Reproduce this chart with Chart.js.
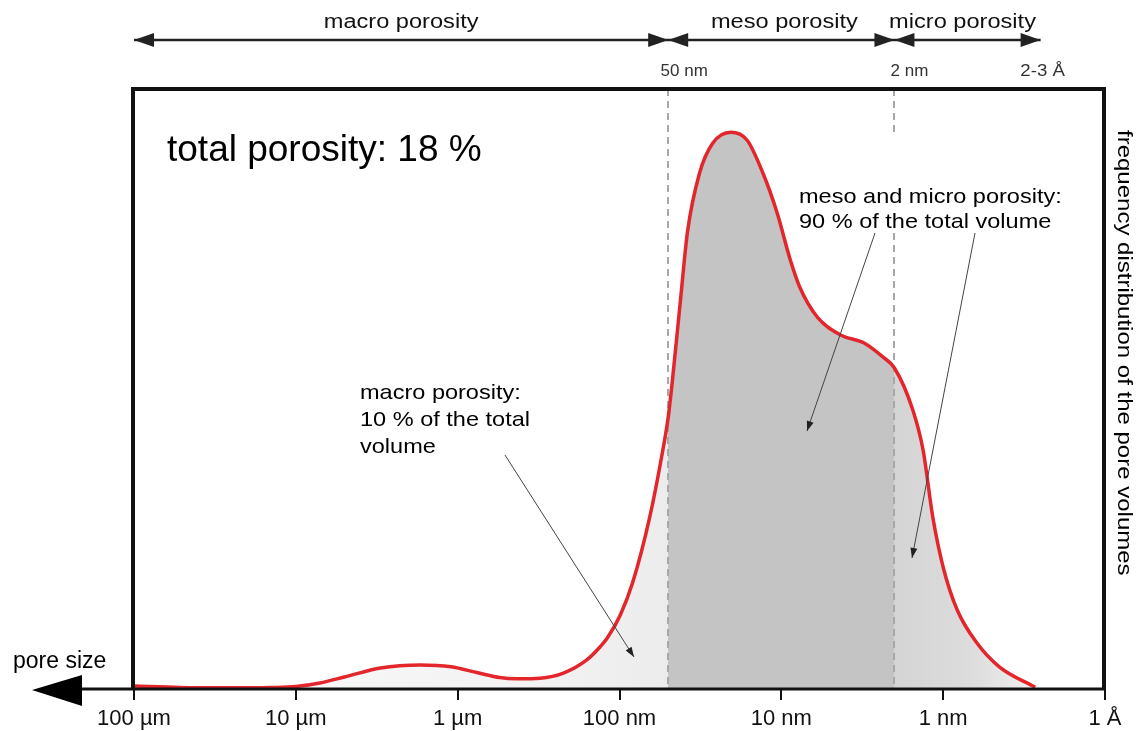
<!DOCTYPE html>
<html>
<head>
<meta charset="utf-8">
<script src="https://cdn.jsdelivr.net/npm/chart.js@4.4.1/dist/chart.umd.min.js"></script>
<style>
  html, body { margin: 0; padding: 0; background: #fff; }
  #wrap { width: 1140px; height: 731px; position: relative; }
</style>
</head>
<body>
<div id="wrap"><canvas id="poreChart"></canvas></div>
<script>
// pore size in nm (100 µm ... 1 Å)
const sizeNm = [100000, 52000, 25000, 14500, 10000, 7100, 5000, 3000, 1700, 1100, 750, 550,
    430, 310, 220, 160, 132, 119, 99, 83, 65, 54,
    50, 47.4, 42, 38, 32, 26.5, 20.5, 16.3, 13, 10.6, 8.8, 7.7, 6.0, 4.3, 3.1, 2.35,
    2.0, 1.54, 1.33, 1.16, 1.0, 0.82, 0.62, 0.45, 0.27];
// relative frequency (0..100 of the plot height)
const freq = [0.5, 0.25, 0.2, 0.25, 0.4, 1.0, 2.0, 3.5, 4.0, 3.7, 2.7, 1.9,
    1.7, 1.8, 2.7, 4.8, 7.0, 8.5, 12.3, 17.7, 28.7, 39.8,
    45.3, 50.7, 64.8, 76.2, 86.0, 91.0, 92.8, 91.5, 86.0, 79.3, 71.5, 67.0, 62.0, 59.0, 57.7, 55.3,
    53.5, 46.5, 39.8, 28.7, 20.3, 13.2, 7.7, 3.7, 0.3];

const tickValues = [100000, 10000, 1000, 100, 10, 1, 0.1];
const tickLabels = ['100 µm', '10 µm', '1 µm', '100 nm', '10 nm', '1 nm', '1 Å'];

// region limits (nm)
const mesoStart = 50;
const microStart = 2;
const microEnd = 0.25;
const regionNames = ['macro porosity', 'meso porosity', 'micro porosity'];
const limitLabels = ['50 nm', '2 nm', '2-3 Å'];

const FONT = '"Liberation Sans", Arial, Helvetica, sans-serif';

function txt(ctx, s, x, y, size, sx, color, align) {
    ctx.save();
    ctx.font = size + 'px ' + FONT;
    ctx.fillStyle = color || '#000';
    ctx.textBaseline = 'alphabetic';
    ctx.textAlign = align || 'left';
    ctx.translate(x, y);
    ctx.scale(sx, 1);
    ctx.fillText(s, 0, 0);
    ctx.restore();
}

function head(ctx, x, y, dir, len, half) {
    // dir: +1 points right, -1 points left
    ctx.beginPath();
    ctx.moveTo(x, y);
    ctx.lineTo(x - dir * len, y - half);
    ctx.lineTo(x - dir * len, y + half);
    ctx.closePath();
    ctx.fill();
}

function pointer(ctx, x0, y0, x1, y1) {
    ctx.save();
    ctx.strokeStyle = '#444';
    ctx.fillStyle = '#222';
    ctx.lineWidth = 1;
    ctx.beginPath();
    ctx.moveTo(x0, y0);
    ctx.lineTo(x1, y1);
    ctx.stroke();
    const a = Math.atan2(y1 - y0, x1 - x0);
    ctx.translate(x1, y1);
    ctx.rotate(a);
    ctx.beginPath();
    ctx.moveTo(0, 0);
    ctx.lineTo(-10, -3.5);
    ctx.lineTo(-10, 3.5);
    ctx.closePath();
    ctx.fill();
    ctx.restore();
}

// one horizontal gradient with hard stops at the region limits
let fillCache = null;
function regionFill(ctx) {
    const chart = ctx.chart;
    const area = chart.chartArea;
    const xs = chart.scales.x;
    if (!area || !xs) return '#dddddd';
    const key = area.left + ':' + area.right;
    if (fillCache && fillCache.key === key) return fillCache.g;
    const w = area.right - area.left;
    const t = v => Math.min(1, Math.max(0, (xs.getPixelForValue(v) - area.left) / w));
    const g = chart.ctx.createLinearGradient(area.left, 0, area.right, 0);
    const tm = t(mesoStart), tu = t(microStart), te = t(microEnd);
    g.addColorStop(0, '#fafafa');
    g.addColorStop(tm * 0.75, '#f3f3f3');
    g.addColorStop(tm - 0.0005, '#ececec');
    g.addColorStop(tm, '#c4c4c4');
    g.addColorStop(tu - 0.0005, '#c4c4c4');
    g.addColorStop(tu, '#d4d4d4');
    g.addColorStop(tu + (te - tu) * 0.55, '#dddddd');
    g.addColorStop(te, '#f3f3f3');
    g.addColorStop(1, '#ffffff');
    fillCache = { key, g };
    return g;
}

const decor = {
    id: 'decor',
    beforeDatasetDraw(chart) {
        const ctx = chart.ctx, a = chart.chartArea, xs = chart.scales.x;
        ctx.save();
        ctx.strokeStyle = '#a8a8a8';
        ctx.lineWidth = 2;
        ctx.setLineDash([7, 5]);
        [mesoStart, microStart].forEach(v => {
            const px = Math.round(xs.getPixelForValue(v));
            ctx.beginPath();
            ctx.moveTo(px, a.top);
            ctx.lineTo(px, a.bottom);
            ctx.stroke();
        });
        ctx.restore();
    },
    afterDraw(chart) {
        const ctx = chart.ctx, a = chart.chartArea, xs = chart.scales.x;
        const pMeso = xs.getPixelForValue(mesoStart);
        const pMicro = xs.getPixelForValue(microStart);
        const pEnd = xs.getPixelForValue(microEnd);

        // white box behind the meso/micro note
        ctx.fillStyle = '#fff';
        ctx.fillRect(797, 133, 288, 99);

        // frame
        ctx.save();
        ctx.strokeStyle = '#111';
        ctx.lineWidth = 4;
        ctx.beginPath();
        ctx.moveTo(a.left - 1, a.bottom);
        ctx.lineTo(a.left - 1, a.top);
        ctx.lineTo(a.right - 1, a.top);
        ctx.lineTo(a.right - 1, a.bottom);
        ctx.stroke();
        // pore size axis with arrow
        ctx.lineWidth = 3;
        ctx.beginPath();
        ctx.moveTo(60, a.bottom);
        ctx.lineTo(a.right, a.bottom);
        ctx.stroke();
        ctx.fillStyle = '#000';
        ctx.beginPath();
        ctx.moveTo(32, a.bottom + 1);
        ctx.lineTo(82, a.bottom - 14);
        ctx.lineTo(82, a.bottom + 17);
        ctx.closePath();
        ctx.fill();

        // top range arrows
        ctx.strokeStyle = '#222';
        ctx.fillStyle = '#222';
        ctx.lineWidth = 2.5;
        const ay = 40;
        ctx.beginPath();
        ctx.moveTo(a.left, ay);
        ctx.lineTo(pEnd, ay);
        ctx.stroke();
        head(ctx, a.left, ay, -1, 20, 7);
        head(ctx, pMeso, ay, 1, 20, 7);
        head(ctx, pMeso, ay, -1, 20, 7);
        head(ctx, pMicro, ay, 1, 20, 7);
        head(ctx, pMicro, ay, -1, 20, 7);
        head(ctx, pEnd, ay, 1, 20, 7);
        ctx.restore();

        txt(ctx, regionNames[0], (a.left + pMeso) / 2, 28, 20, 1.18, '#111', 'center');
        txt(ctx, regionNames[1], (pMeso + pMicro) / 2 + 3, 28, 20, 1.18, '#111', 'center');
        txt(ctx, regionNames[2], (pMicro + pEnd) / 2 - 5, 28, 20, 1.18, '#111', 'center');
        txt(ctx, limitLabels[0], pMeso + 16, 76, 17, 1.0, '#333', 'center');
        txt(ctx, limitLabels[1], pMicro + 15, 76, 17, 1.0, '#333', 'center');
        txt(ctx, limitLabels[2], pEnd + 2, 76, 17, 1.1, '#333', 'center');

        txt(ctx, 'total porosity: 18 %', 167, 161, 37, 1.0, '#000');
        txt(ctx, 'meso and micro porosity:', 799, 203, 21, 1.12, '#000');
        txt(ctx, '90 % of the total volume', 799, 228, 21, 1.12, '#000');
        txt(ctx, 'macro porosity:', 360, 399, 21, 1.12, '#000');
        txt(ctx, '10 % of the total', 360, 426, 21, 1.12, '#000');
        txt(ctx, 'volume', 360, 453, 21, 1.12, '#000');
        txt(ctx, 'pore size', 13, 668, 23, 1.0, '#000');

        // y title, rotated
        ctx.save();
        ctx.translate(1118, 130);
        ctx.rotate(Math.PI / 2);
        ctx.scale(1.2, 1);
        ctx.font = '20px ' + FONT;
        ctx.fillStyle = '#000';
        ctx.textBaseline = 'alphabetic';
        ctx.fillText('frequency distribution of the pore volumes', 0, 0);
        ctx.restore();

        pointer(ctx, 505, 455, 634, 657);
        pointer(ctx, 875, 233, 807, 431);
        pointer(ctx, 975, 233, 912, 558);
    }
};

new Chart(document.getElementById('poreChart'), {
    type: 'line',
    data: {
        datasets: [{
            label: 'pore volume',
            data: sizeNm.map((s, i) => ({ x: s, y: freq[i] })),
            borderColor: '#e3262b',
            borderWidth: 3.5,
            pointRadius: 0,
            cubicInterpolationMode: 'monotone',
            fill: 'origin',
            backgroundColor: regionFill
        }]
    },
    options: {
        responsive: true,
        maintainAspectRatio: false,
        animation: false,
        layout: { padding: { left: 134, right: 35, top: 89, bottom: 0 } },
        plugins: {
            legend: { display: false },
            tooltip: { enabled: false }
        },
        scales: {
            x: {
                type: 'logarithmic',
                reverse: true,
                min: 0.1,
                max: 100000,
                afterBuildTicks: scale => { scale.ticks = tickValues.map(v => ({ value: v })); },
                afterFit: scale => { scale.height = 42; },
                border: { display: false },
                grid: { display: true, drawOnChartArea: false, drawTicks: true, tickLength: 11, color: '#111', lineWidth: 2 },
                ticks: {
                    autoSkip: false,
                    maxRotation: 0,
                    padding: 6,
                    color: '#111',
                    font: { family: FONT, size: 22 },
                    callback: v => tickLabels[tickValues.indexOf(v)]
                }
            },
            y: {
                display: false,
                min: 0,
                max: 100
            }
        }
    },
    plugins: [decor]
});
</script>
</body>
</html>
